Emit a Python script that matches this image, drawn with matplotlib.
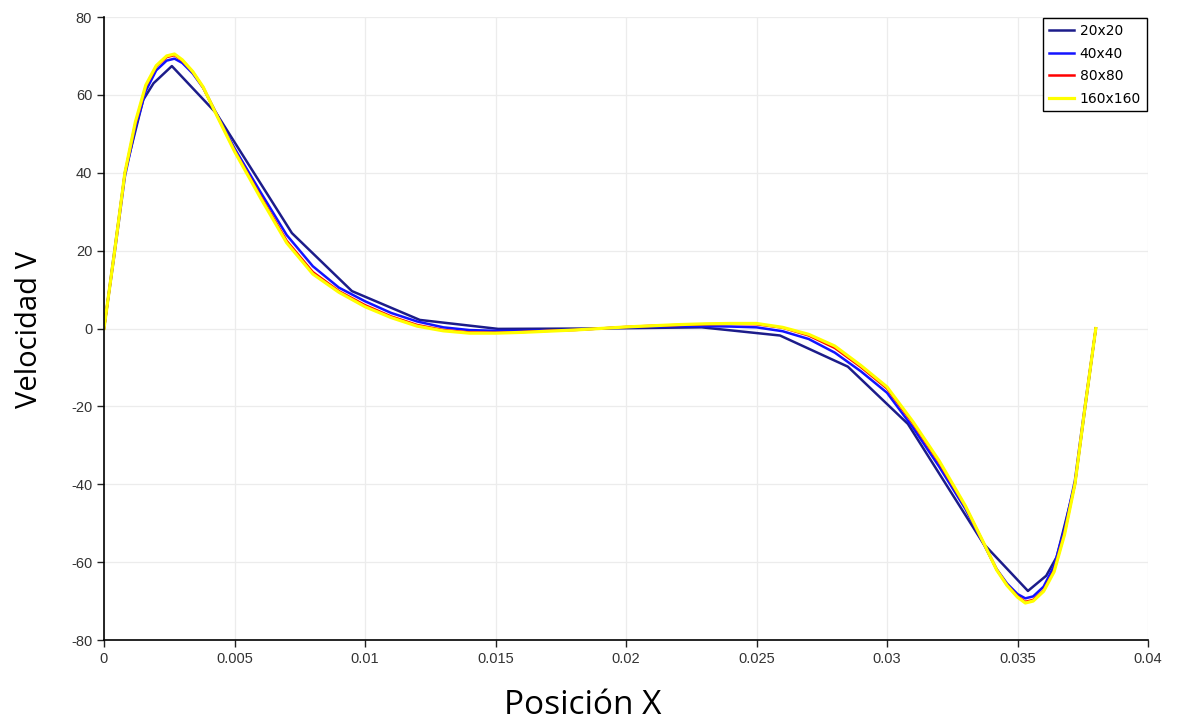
import matplotlib
matplotlib.use("Agg")
import matplotlib.pyplot as plt

plt.rcParams["axes.unicode_minus"] = False

# ---- data ----
x20 = [0, 0.0008, 0.0015, 0.0019, 0.0026, 0.0043, 0.0072, 0.0095, 0.0121, 0.0151,
       0.019, 0.0229, 0.0259, 0.0285, 0.0308, 0.0337, 0.0354, 0.0361, 0.0365, 0.0372, 0.038]
v20 = [0, 40, 58.7, 63, 67.4, 55.3, 24.5, 9.6, 2.2, -0.1,
       0, 0.3, -1.8, -9.8, -24.5, -55.3, -67.4, -63.5, -58.7, -40, 0]

x_fine = [0, 0.0004, 0.0008, 0.0012, 0.0016, 0.002, 0.0024, 0.0027, 0.003, 0.0034, 0.0038, 0.0043,
          0.005, 0.006, 0.007, 0.008, 0.009, 0.010, 0.011, 0.012, 0.013, 0.014, 0.015, 0.016,
          0.017, 0.018, 0.019, 0.020, 0.021, 0.022, 0.023, 0.024, 0.025, 0.026, 0.027, 0.028,
          0.029, 0.030, 0.031, 0.032, 0.033,
          0.0337, 0.0342, 0.0346, 0.035, 0.0353, 0.0356, 0.036, 0.0364, 0.0368, 0.0372, 0.0376, 0.038]
v40 = [0, 19, 39, 51.5, 61, 66.3, 68.8, 69.3, 68.2, 65.5, 61.8, 55.3,
       46.3, 35, 24, 16, 10.5, 7.0, 4.0, 1.8, 0.3, -0.4, -0.6, -0.6,
       -0.5, -0.3, 0, 0.3, 0.5, 0.6, 0.6, 0.5, 0.3, -0.7, -2.7, -6.2,
       -11, -16.5, -25.5, -35.5, -46.3,
       -55.3, -61.8, -65.5, -68.2, -69.3, -68.8, -66.3, -61, -51.5, -39, -19, 0]
v80 = [0, 19.4, 39.8, 52.6, 62.2, 67.3, 69.7, 70.2, 68.8, 65.9, 61.9, 55.1,
       45.7, 33.9, 22.5, 14.5, 9.6, 6.0, 3.1, 0.9, -0.4, -1.0, -1.1, -0.9,
       -0.6, -0.4, 0, 0.4, 0.7, 0.9, 1.1, 1.2, 1.1, 0.2, -1.8, -5.0,
       -9.9, -15.4, -24.4, -34.4, -45.7,
       -55.1, -61.9, -65.9, -68.8, -70.2, -69.7, -67.3, -62.2, -52.6, -39.8, -19.4, 0]
v160 = [0, 19.5, 40, 53, 62.5, 67.5, 70, 70.5, 69, 66, 62, 55,
        45.5, 33.5, 22, 14, 9.3, 5.6, 2.8, 0.6, -0.6, -1.2, -1.2, -1.0,
        -0.7, -0.4, 0, 0.4, 0.7, 1.0, 1.2, 1.3, 1.3, 0.3, -1.5, -4.5,
        -9.5, -15, -24, -34, -45.5,
        -55, -62, -66, -69, -70.5, -70, -67.5, -62.5, -53, -40, -19.5, 0]

labels = ["20x20", "40x40", "80x80", "160x160"]
xticks = [0, 0.005, 0.01, 0.015, 0.02, 0.025, 0.03, 0.035, 0.04]
xticklabels = ["0", "0.005", "0.01", "0.015", "0.02", "0.025", "0.03", "0.035", "0.04"]
yticks = [-80, -60, -40, -20, 0, 20, 40, 60, 80]

# ---- plot ----
fig = plt.figure(figsize=(11.77, 7.21), dpi=100)
ax = fig.add_axes([104/1177, 1 - 640/721, (1148-104)/1177, (640-17)/721])

ax.plot(x20, v20, color="#1c1c8a", lw=1.8, label=labels[0])
ax.plot(x_fine, v40, color="#1414ff", lw=1.8, label=labels[1])
ax.plot(x_fine, v80, color="#ff0000", lw=1.8, label=labels[2])
ax.plot(x_fine, v160, color="#ffff00", lw=2.3, label=labels[3])

ax.set_xlim(0, 0.04)
ax.set_ylim(-80, 80)
ax.set_xticks(xticks)
ax.set_xticklabels(xticklabels)
ax.set_yticks(yticks)
ax.grid(True, color="#ececec", lw=0.9)
ax.set_axisbelow(True)
for s in ["top", "right"]:
    ax.spines[s].set_visible(False)
for s in ["left", "bottom"]:
    ax.spines[s].set_linewidth(1.2)
ax.tick_params(direction="out", length=5, width=1, labelsize=10.5, colors="#222222",
               labelcolor="#333333")
for lab in ax.get_xticklabels() + ax.get_yticklabels():
    lab.set_family("Liberation Sans")

fig.text(583/1177, 1 - 705/721, "Posición X", fontsize=24, family="Open Sans",
         ha="center", va="center")
fig.text(30/1177, 1 - 329/721, "Velocidad V", fontsize=21, family="Open Sans",
         ha="center", va="center", rotation=90)

leg = ax.legend(loc="upper right", fancybox=False, edgecolor="black", framealpha=1,
                prop={"family": "DejaVu Sans", "size": 10}, handlelength=1.8,
                borderaxespad=0.1, labelspacing=0.62, handletextpad=0.45,
                borderpad=0.4)
leg.get_frame().set_linewidth(1.0)

fig.savefig("out.png", dpi=100)
